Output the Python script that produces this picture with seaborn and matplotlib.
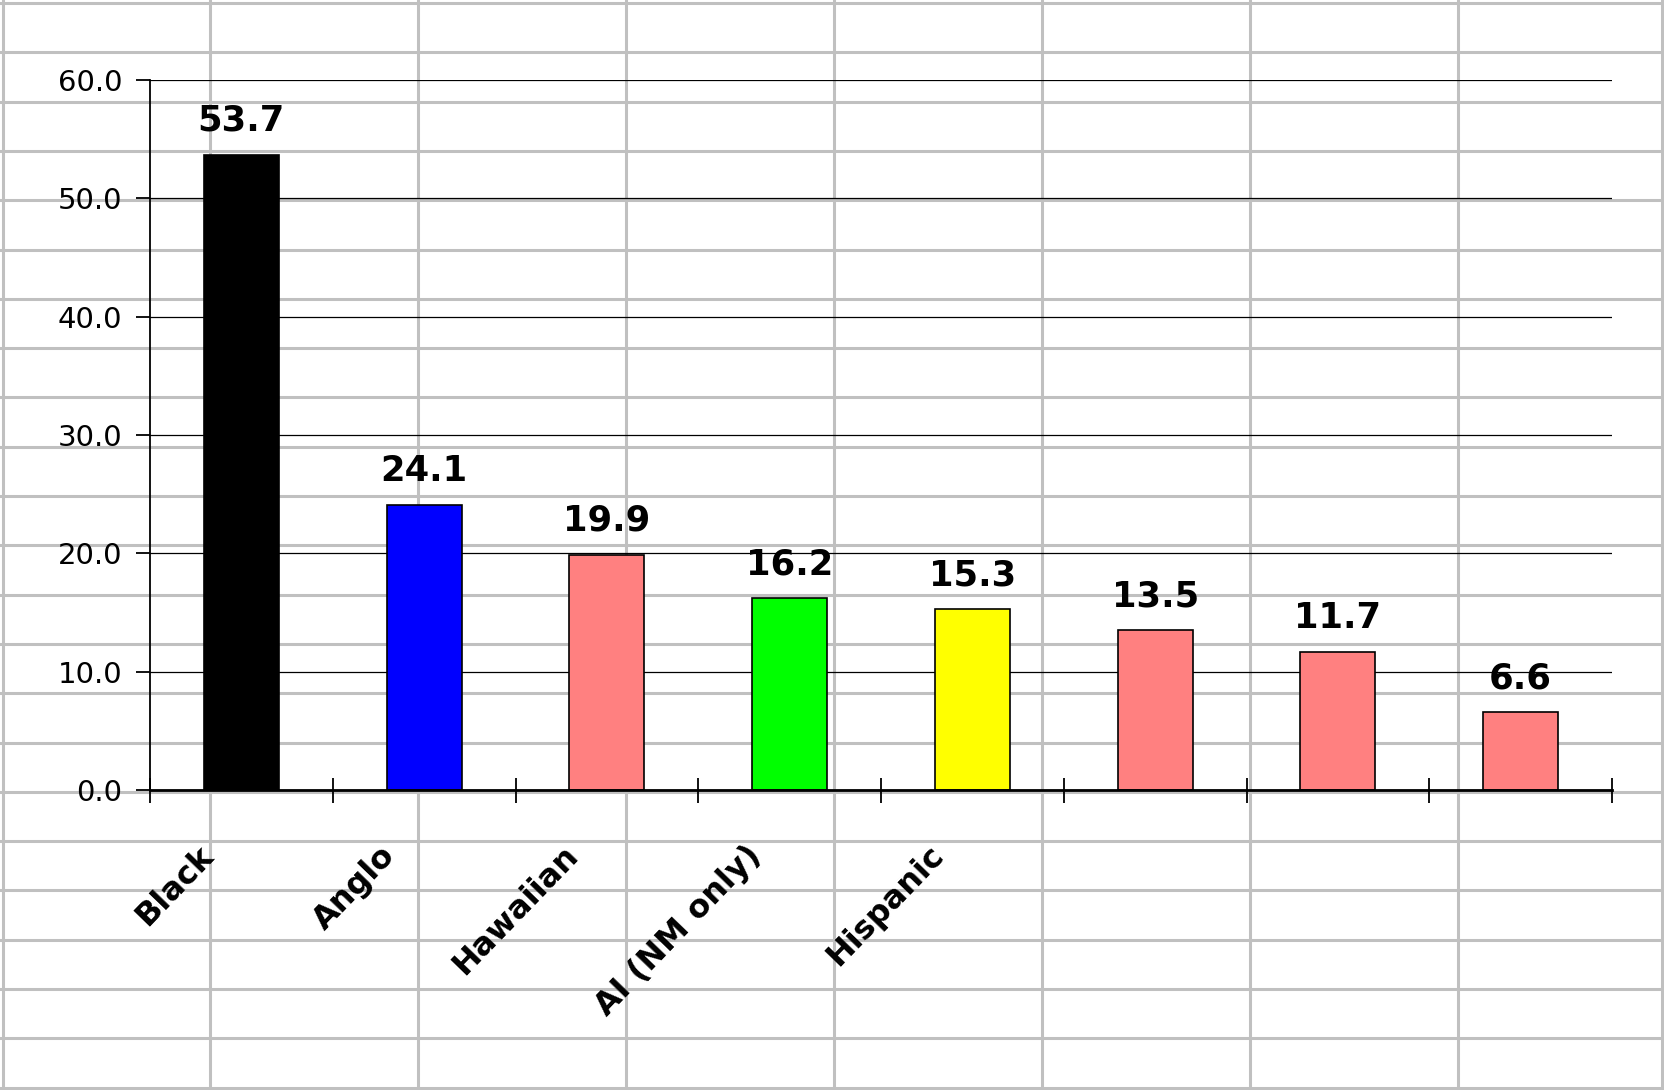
import numpy as np
import pandas as pd
import matplotlib
matplotlib.use('Agg')
import matplotlib.pyplot as plt
import matplotlib.transforms as mtransforms
from matplotlib.lines import Line2D
import seaborn as sns

# chart data
groups = ['Black', 'Anglo', 'Hawaiian', 'AI (NM only)', 'Hispanic', '', '', '']
rates = [53.7, 24.1, 19.9, 16.2, 15.3, 13.5, 11.7, 6.6]
bar_colors = ['#000000', '#0000FF', '#FF8080', '#00FF00', '#FFFF00',
              '#FF8080', '#FF8080', '#FF8080']
y_ticks = [0, 10, 20, 30, 40, 50, 60]


def main():
    plt.rcParams['font.family'] = ['DejaVu Sans']

    W, H = 1664, 1090
    fig = plt.figure(figsize=(W / 100, H / 100), dpi=100)
    fig.patch.set_facecolor('white')

    # spreadsheet cell grid behind the chart
    sheet = '#C0C0C0'
    for k in range(23):
        y = 1 - (3 + 49.3 * k) / H
        fig.add_artist(Line2D([0, 1], [y, y], transform=fig.transFigure,
                              color=sheet, lw=2.2, zorder=-5))
    for x in [3, 210, 418, 626, 834, 1042, 1250, 1458, 1662]:
        xf = x / W
        fig.add_artist(Line2D([xf, xf], [0, 1], transform=fig.transFigure,
                              color=sheet, lw=2.2, zorder=-5))

    left, right, top, bottom = 150, 1612, 80, 790
    ax = fig.add_axes([left / W, 1 - bottom / H, (right - left) / W, (bottom - top) / H])
    ax.patch.set_alpha(0)

    df = pd.DataFrame({'pos': [str(i) for i in range(len(rates))], 'rate': rates})
    sns.barplot(data=df, x='pos', y='rate', hue='pos', palette=bar_colors,
                legend=False, width=0.41, edgecolor='black', linewidth=1.2,
                saturation=1, ax=ax)

    ax.set_xlim(-0.5, len(rates) - 0.5)
    ax.set_ylim(0, 60)
    ax.set_yticks(y_ticks)
    ax.set_yticklabels([f'{v:.1f}' for v in y_ticks], fontsize=21)
    ax.yaxis.grid(True, color='black', lw=0.9)
    ax.set_axisbelow(True)
    ax.set_xlabel('')
    ax.set_ylabel('')

    for s in ['top', 'right']:
        ax.spines[s].set_visible(False)
    ax.spines['left'].set_linewidth(1.3)
    ax.spines['bottom'].set_linewidth(2)

    ax.tick_params(axis='y', length=10, width=1.3, pad=10)
    ax.set_xticks(np.arange(len(rates)))
    ax.set_xticks(np.arange(len(rates) + 1) - 0.5, minor=True)
    ax.tick_params(axis='x', which='major', length=0, pad=36)
    ax.tick_params(axis='x', which='minor', direction='inout', length=18, width=1.3)
    ax.set_xticklabels(groups, rotation=46, ha='right', va='top',
                       fontsize=23, fontweight='bold')
    offset = mtransforms.ScaledTranslation(-0.22, 0, fig.dpi_scale_trans)
    for lbl in ax.get_xticklabels():
        lbl.set_transform(lbl.get_transform() + offset)

    for cont in ax.containers:
        ax.bar_label(cont, fmt='%.1f', padding=12, fontsize=25.5, fontweight='bold')

    fig.savefig('out.png', dpi=100)


if __name__ == '__main__':
    main()
